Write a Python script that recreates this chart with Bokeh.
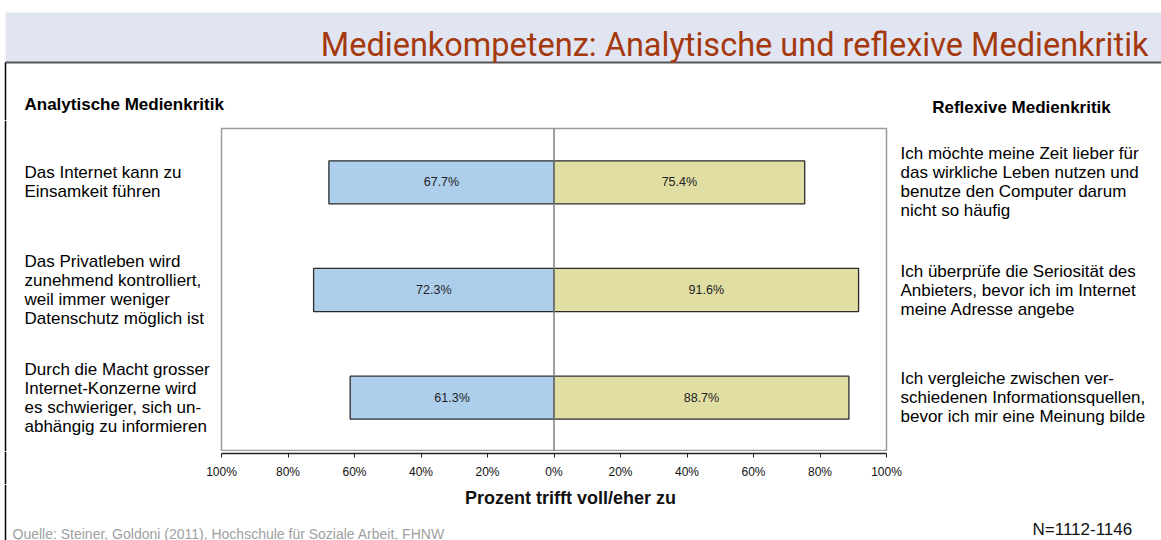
from bokeh.plotting import figure
from bokeh.layouts import column, row
from bokeh.models import Range1d, FixedTicker, Span, ColumnDataSource
from bokeh.core.properties import value
from bokeh.embed import file_html
from bokeh.resources import INLINE

# ---------------- data ----------------
left_statements = [
    "Das Internet kann zu\nEinsamkeit führen",
    "Das Privatleben wird\nzunehmend kontrolliert,\nweil immer weniger\nDatenschutz möglich ist",
    "Durch die Macht grosser\nInternet-Konzerne wird\nes schwieriger, sich un-\nabhängig zu informieren",
]
right_statements = [
    "Ich möchte meine Zeit lieber für\ndas wirkliche Leben nutzen und\nbenutze den Computer darum\nnicht so häufig",
    "Ich überprüfe die Seriosität des\nAnbieters, bevor ich im Internet\nmeine Adresse angebe",
    "Ich vergleiche zwischen ver-\nschiedenen Informationsquellen,\nbevor ich mir eine Meinung bilde",
]
analytic_values = [67.7, 72.3, 61.3]
reflexive_values = [75.4, 91.6, 88.7]
tick_values = [-100, -80, -60, -40, -20, 0, 20, 40, 60, 80, 100]
tick_labels = ["100%", "80%", "60%", "40%", "20%", "0%", "20%", "40%", "60%", "80%", "100%"]

title_text = "Medienkompetenz: Analytische und reflexive Medienkritik"
left_heading = "Analytische Medienkritik"
right_heading = "Reflexive Medienkritik"
axis_title = "Prozent trifft voll/eher zu"
source_text = "Quelle: Steiner, Goldoni (2011), Hochschule für Soziale Arbeit, FHNW"
n_text = "N=1112-1146"

# ---------------- layout constants ----------------
W = 1161
HEADER_H = 120
ROW_H = 331
AXIS_H = 33
FOOTER_H = 540 - HEADER_H - ROW_H - AXIS_H
LEFT_W = 219
BL, BR = 2, 2
PLOT_W = 665
CHART_W = BL + PLOT_W + BR
RIGHT_W = W - LEFT_W - CHART_W
FRAME_TOP = 8
RIGHT_TEXT_X = 900 - (LEFT_W + CHART_W)
AX_LEFT_W = 200
AX_BL = LEFT_W + BL - AX_LEFT_W

BLUE = "#aecfec"
YELLOW = "#e0dea2"
FONT = "Liberation Sans"
LINE_X = 5

n = len(analytic_values)
ypos = [n - 1 - i for i in range(n)]
unit = (ROW_H - FRAME_TOP) / n
side_yr = (-0.5, n - 0.5 + FRAME_TOP / unit)


def plain(width, height, xr, yr):
    f = figure(width=width, height=height, output_backend="svg", toolbar_location=None,
               x_range=Range1d(*xr), y_range=Range1d(*yr), x_axis_type=None,
               y_axis_type=None, min_border=0, tools="", frame_align=False)
    f.outline_line_color = None
    f.background_fill_color = "white"
    f.border_fill_color = "white"
    return f


def edge_line(f, y0, y1):
    f.segment(x0=LINE_X, y0=y0, x1=LINE_X, y1=y1, line_color="#000000", line_width=1.5)


# ---------------- header ----------------
hdr = plain(W, HEADER_H, (0, W), (HEADER_H, 0))
hdr.quad(left=LINE_X, right=W, top=12, bottom=62, fill_color="#e1e5f1", line_color=None)
hdr.segment(x0=LINE_X, y0=62, x1=W, y1=62, line_color="#555555", line_width=2)
edge_line(hdr, 62, HEADER_H)
hdr.text(x=[1148], y=[44], text=[title_text], text_align="right", text_baseline="middle",
         text_font=value("Roboto"), text_font_size="32.5px", text_color="#a5390e")
hdr.text(x=[24], y=[104], text=[left_heading], text_align="left",
         text_baseline="middle", text_font=value(FONT), text_font_size="17px",
         text_font_style="bold", text_color="#000000")
hdr.text(x=[1021], y=[107], text=[right_heading], text_align="center",
         text_baseline="middle", text_font=value(FONT), text_font_size="17px",
         text_font_style="bold", text_color="#000000")

# ---------------- left text panel ----------------
lp = plain(LEFT_W, ROW_H, (0, LEFT_W), side_yr)
edge_line(lp, side_yr[0], side_yr[1])
lp.text(x=[24] * n, y=ypos, text=left_statements, text_align="left", text_baseline="middle",
        text_font=value(FONT), text_font_size="17px", text_color="#000000", text_line_height=1.0)

# ---------------- chart ----------------
p = figure(width=CHART_W, height=ROW_H, output_backend="svg", toolbar_location=None,
           x_range=Range1d(-100, 100), y_range=Range1d(-0.5, n - 0.5),
           min_border_left=BL, min_border_right=BR, min_border_top=FRAME_TOP,
           min_border_bottom=0, tools="", frame_align=False)
p.background_fill_color = "white"
p.border_fill_color = "white"
p.outline_line_color = "#9c9c9c"
p.outline_line_width = 1.5
p.xgrid.visible = False
p.ygrid.visible = False
p.xaxis.visible = False
p.yaxis.visible = False

src = ColumnDataSource(dict(
    y=ypos,
    left=[-v for v in analytic_values],
    right=reflexive_values,
    lmid=[-v / 2 for v in analytic_values],
    rmid=[v / 2 for v in reflexive_values],
    ltxt=[f"{v:.1f}%" for v in analytic_values],
    rtxt=[f"{v:.1f}%" for v in reflexive_values],
))
p.hbar(y="y", left="left", right=0, height=0.4, source=src,
       fill_color=BLUE, line_color="#2b2b2b", line_width=1.3)
p.hbar(y="y", left=0, right="right", height=0.4, source=src,
       fill_color=YELLOW, line_color="#2b2b2b", line_width=1.3)
p.add_layout(Span(location=0, dimension="height", line_color="#7f7f7f", line_width=1.5))
for xcol, tcol in (("lmid", "ltxt"), ("rmid", "rtxt")):
    p.text(x=xcol, y="y", text=tcol, source=src, text_align="center", text_baseline="middle",
           text_font=value(FONT), text_font_size="12.5px", text_color="#222222")

# ---------------- right text panel ----------------
rp = plain(RIGHT_W, ROW_H, (0, RIGHT_W), side_yr)
rp.text(x=[RIGHT_TEXT_X] * n, y=ypos, text=right_statements, text_align="left",
        text_baseline="middle", text_font=value(FONT), text_font_size="17px",
        text_color="#000000", text_line_height=1.0)

# ---------------- x axis strip ----------------
lb = plain(AX_LEFT_W, AXIS_H, (0, AX_LEFT_W), (0, 1))
edge_line(lb, 0, 1)

axf = figure(width=W - AX_LEFT_W, height=AXIS_H, output_backend="svg", toolbar_location=None,
             x_range=p.x_range, y_range=Range1d(0, 1), y_axis_type=None,
             min_border_left=AX_BL, min_border_right=W - AX_LEFT_W - AX_BL - PLOT_W,
             min_border_top=0, min_border_bottom=AXIS_H - 2, tools="", frame_align=False)
axf.outline_line_color = None
axf.xgrid.visible = False
ax = axf.xaxis[0]
ax.ticker = FixedTicker(ticks=tick_values)
ax.major_label_overrides = {t: l for t, l in zip(tick_values, tick_labels)}
ax.minor_tick_line_color = None
ax.major_tick_in = 0
ax.major_tick_out = 4
ax.axis_line_color = "#222222"
ax.axis_line_width = 1.3
ax.major_tick_line_color = "#222222"
ax.major_label_text_font = FONT
ax.major_label_text_font_size = "12px"
ax.major_label_text_color = "#111111"
ax.major_label_standoff = 7

# ---------------- footer ----------------
ft = plain(W, FOOTER_H, (0, W), (FOOTER_H, 0))
edge_line(ft, 0, FOOTER_H)
top = 540 - FOOTER_H
ft.text(x=[570], y=[497 - top], text=[axis_title], text_align="center",
        text_baseline="middle", text_font=value(FONT), text_font_size="18px",
        text_font_style="bold", text_color="#111111")
ft.text(x=[12], y=[533 - top], text=[source_text], text_align="left",
        text_baseline="middle", text_font=value(FONT), text_font_size="14px", text_color="#a0a0a0")
ft.text(x=[1032], y=[529 - top], text=[n_text], text_align="left",
        text_baseline="middle", text_font=value(FONT), text_font_size="17px", text_color="#111111")

layout = column(hdr, row(lp, p, rp), row(lb, axf), ft)
open("out.html", "w").write(file_html(layout, INLINE))
